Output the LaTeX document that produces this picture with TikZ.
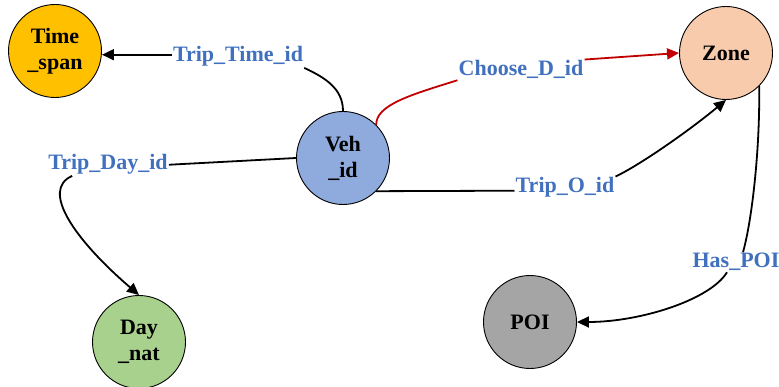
\documentclass[tikz,border=0pt]{standalone}
\usepackage{fontspec}
\setmainfont{Liberation Serif}
\usetikzlibrary{arrows.meta}
\definecolor{ctime}{HTML}{FFC000}
\definecolor{cveh}{HTML}{8FAADC}
\definecolor{czone}{HTML}{F8CBAD}
\definecolor{cday}{HTML}{A9D18E}
\definecolor{cpoi}{HTML}{A5A5A5}
\definecolor{lblue}{HTML}{4170BE}
\definecolor{cred}{HTML}{C00000}
\begin{document}
\begin{tikzpicture}[x=1pt,y=1pt,
  ent/.style={circle,draw=black,line width=0.9pt,minimum size=93pt,inner sep=0pt,align=center,font=\fontsize{22}{26}\selectfont\bfseries},
  lbl/.style={text=lblue,font=\fontsize{22}{26}\selectfont\bfseries,inner sep=1pt,anchor=base},
  edge/.style={line width=1.8pt},
  arr/.style={edge,-{Triangle[length=12pt,width=11pt]}}]
\useasboundingbox (0,0) rectangle (779,-387);
\node[ent,fill=ctime] (time) at (55,-51) {Time\\\_span};
\node[ent,fill=cveh] (veh) at (343,-158) {Veh\\\_id};
\node[ent,fill=czone] (zone) at (726,-53) {Zone};
\node[ent,fill=cday] (day) at (139,-342) {Day\\\_nat};
\node[ent,fill=cpoi] (poi) at (530,-322) {POI};

\node[lbl] (ltt) at (238,-62) {Trip\_Time\_id};
\node[lbl] (ltd) at (108,-170) {Trip\_Day\_id};
\node[lbl] (lcd) at (521,-76) {Choose\_D\_id};
\node[lbl] (lto) at (565,-193) {Trip\_O\_id};
\node[lbl] (lhp) at (736,-268) {Has\_POI};

% Veh -> Time_span
\draw[edge] (veh.north) to[out=90,in=-25] (ltt.south east);
\draw[arr] ([yshift=2pt]ltt.west) -- ([yshift=2pt]ltt.west -| time.east);
% Veh -> Day_nat
\draw[edge] (veh.west) -- (ltd.east);
\draw[arr] ([xshift=25pt]ltd.south west) .. controls (40,-190) and (75,-240) .. (day.north);
% Veh -> Zone (Choose_D_id)
\draw[edge,cred] (veh.45) .. controls (376,-105) and (410,-95) .. (lcd.south west);
\draw[arr,cred] (lcd.north east) -- (zone.west);
% Veh -> Zone (Trip_O_id)
\draw[edge] (veh.-45) -- ([yshift=-3pt]lto.west);
\draw[arr] (lto.north east) .. controls (640,-165) and (690,-130) .. (zone.south);
% Zone -> POI
\draw[edge] (zone.-45) .. controls (760,-150) and (752,-220) .. ([xshift=7pt]lhp.north);
\draw[arr] ([xshift=-9pt]lhp.south) .. controls (710,-300) and (640,-322) .. (poi.east);
\end{tikzpicture}
\end{document}
